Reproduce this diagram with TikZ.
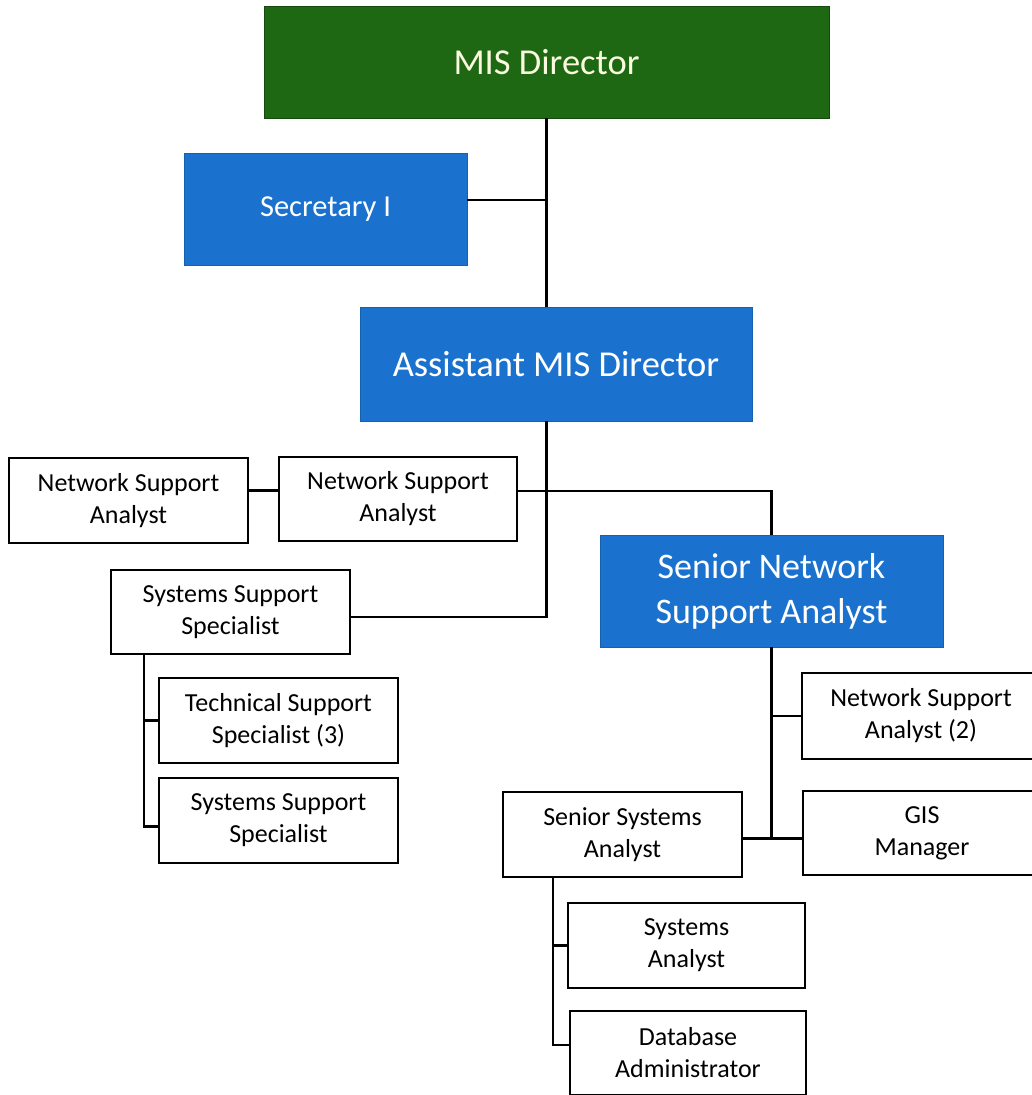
\documentclass[tikz,border=0pt]{standalone}
\usepackage{fontspec}
\setmainfont{Carlito}
\definecolor{misgreen}{RGB}{30,104,20}
\definecolor{misblue}{RGB}{26,114,206}
\definecolor{paletext}{RGB}{250,250,222}
\begin{document}
\begin{tikzpicture}[x=1pt,y=-1pt,
    post/.style={rectangle, draw=black, line width=1.6pt, fill=white, align=center,
      inner sep=0pt, font=\fontsize{26}{32}\selectfont},
    headpost/.style={rectangle, align=center, inner sep=0pt, text=white,
      font=\fontsize{36.5}{45}\selectfont},
    link/.style={line width=2.2pt}]
    % Canvas
    \useasboundingbox (0,0) rectangle (1032,1095);
    \clip (0,0) rectangle (1032,1095);
    \fill[white] (0,0) rectangle (1032,1095);

    % Top of the chart
    \node[headpost, fill=misgreen, draw=misgreen!70!black, text=paletext,
      minimum width=565pt, minimum height=112pt] (dir) at (546.5,62) {MIS Director};
    \node[headpost, fill=misblue, draw=misblue!85!black, font=\fontsize{30.5}{37}\selectfont,
      minimum width=283pt, minimum height=112pt] (sec) at (325.5,209) {Secretary I};
    \node[headpost, fill=misblue, draw=misblue!85!black,
      minimum width=392pt, minimum height=114pt] (asst) at (556,364) {Assistant MIS Director};
    \coordinate (trunk) at (dir.south);

    % Director line and secretary
    \draw[link] (trunk) -- (trunk |- asst.north);
    \draw[link] ([yshift=9pt]sec.east) -- ([yshift=9pt]sec.east -| trunk);

    % Posts under the assistant
    \node[post, minimum width=239pt, minimum height=85pt] (nsaL) at (128.5,500.5) {Network Support\\Analyst};
    \node[post, minimum width=238pt, minimum height=84pt] (nsaM) at (398,499) {Network Support\\Analyst};
    \node[post, minimum width=239pt, minimum height=84pt] (sss) at (230.5,612) {Systems Support\\Specialist};
    \node[headpost, fill=misblue, draw=misblue!85!black, font=\fontsize{36}{45}\selectfont,
      minimum width=343pt, minimum height=112pt] (snsa) at (771.5,591) {Senior Network\\Support Analyst};

    \draw[link] (asst.south -| trunk) -- ([yshift=-5pt]sss.east -| trunk) -- ([yshift=-5pt]sss.east);
    \draw[link] ([yshift=10pt]nsaL.east) -- ([yshift=10pt]nsaL.east -| nsaM.west);
    \draw[link] ([yshift=8pt]nsaM.east) -| (snsa.north);

    % Systems support group
    \node[post, minimum width=239pt, minimum height=85pt] (tss) at (278.5,720.5) {Technical Support\\Specialist (3)};
    \node[post, minimum width=239pt, minimum height=85pt] (sss2) at (278.5,820.5) {Systems Support\\Specialist};
    \coordinate (sssbus) at ([xshift=-86.5pt]sss.south);
    \draw[link] (sssbus) |- ([yshift=-6pt]sss2.west);
    \draw[link] (tss.west) -- (tss.west -| sssbus);

    % Senior network support group
    \node[post, minimum width=238pt, minimum height=86pt] (nsa2) at (921,716) {Network Support\\Analyst (2)};
    \node[post, minimum width=238pt, minimum height=84pt] (gis) at (922,833) {GIS\\Manager};
    \node[post, minimum width=239pt, minimum height=85pt] (ssa) at (622.5,834.5) {Senior Systems\\Analyst};
    \draw[link] (snsa.south) -- ([yshift=-4pt]snsa.south |- gis.west);
    \draw[link] (nsa2.west) -- (nsa2.west -| snsa.south);
    \draw[link] ([yshift=-4pt]ssa.east) -- ([yshift=-4pt]ssa.east -| gis.west);

    % Senior systems group
    \node[post, minimum width=237pt, minimum height=85pt] (sa) at (686.5,945.5) {Systems\\Analyst};
    \node[post, minimum width=236pt, minimum height=84pt] (dba) at (688,1053) {Database\\Administrator};
    \coordinate (ssabus) at ([xshift=-69.5pt]ssa.south);
    \draw[link] (ssabus) |- ([yshift=8pt]dba.west);
    \draw[link] (sa.west) -- (sa.west -| ssabus);
\end{tikzpicture}
\end{document}
